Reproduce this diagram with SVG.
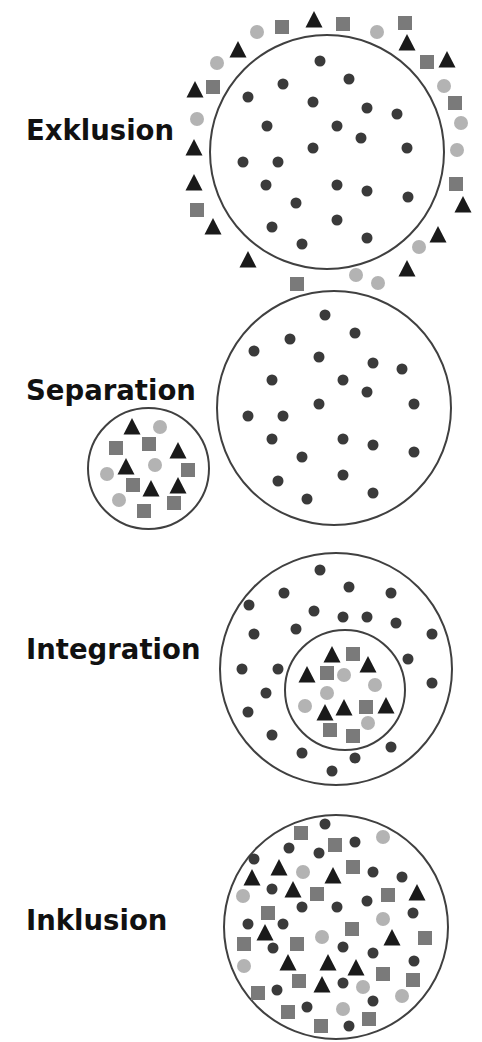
<svg xmlns="http://www.w3.org/2000/svg" xmlns:xlink="http://www.w3.org/1999/xlink" width="482" height="1042" viewBox="0 0 482 1042">
<style>
.ring{fill:none;stroke:#404040;stroke-width:2}
.lbl{font-family:"DejaVu Sans","Verdana",sans-serif;font-weight:bold;font-size:27.5px;fill:#111}
</style>
<defs>
<circle id="d" r="5.5" fill="#3a3a3a"/>
<circle id="c" r="7" fill="#b3b3b3"/>
<rect id="s" x="-7" y="-7" width="14" height="14" fill="#7a7a7a"/>
<path id="t" d="M0,-9 L8.5,7.5 L-8.5,7.5 Z" fill="#1a1a1a"/>
</defs>
<rect width="482" height="1042" fill="#fff"/>

<g id="exklusion">
<text class="lbl" x="26" y="140">Exklusion</text>
<circle class="ring" cx="327" cy="152" r="117"/>
<use href="#d" x="320" y="61"/><use href="#d" x="349" y="79"/><use href="#d" x="283" y="84"/>
<use href="#d" x="248" y="97"/><use href="#d" x="313" y="102"/><use href="#d" x="367" y="108"/>
<use href="#d" x="397" y="114"/><use href="#d" x="267" y="126"/><use href="#d" x="337" y="126"/>
<use href="#d" x="361" y="138"/><use href="#d" x="313" y="148"/><use href="#d" x="407" y="148"/>
<use href="#d" x="243" y="162"/><use href="#d" x="278" y="162"/><use href="#d" x="266" y="185"/>
<use href="#d" x="337" y="185"/><use href="#d" x="367" y="191"/><use href="#d" x="408" y="197"/>
<use href="#d" x="296" y="203"/><use href="#d" x="272" y="227"/><use href="#d" x="337" y="220"/>
<use href="#d" x="302" y="244"/><use href="#d" x="367" y="238"/>
<use href="#t" x="314" y="20"/><use href="#s" x="282" y="27"/><use href="#c" x="257" y="32"/>
<use href="#t" x="238" y="50"/><use href="#c" x="217" y="63"/><use href="#t" x="195" y="90"/>
<use href="#s" x="213" y="87"/><use href="#c" x="197" y="119"/><use href="#t" x="194" y="148"/>
<use href="#t" x="194" y="183"/><use href="#s" x="197" y="210"/><use href="#t" x="213" y="227"/>
<use href="#t" x="248" y="260"/><use href="#s" x="297" y="284"/>
<use href="#s" x="343" y="24"/><use href="#c" x="377" y="32"/><use href="#s" x="405" y="23"/>
<use href="#t" x="407" y="43"/><use href="#s" x="427" y="62"/><use href="#t" x="447" y="60"/>
<use href="#c" x="444" y="86"/><use href="#s" x="455" y="103"/><use href="#c" x="461" y="123"/>
<use href="#c" x="457" y="150"/><use href="#s" x="456" y="184"/><use href="#t" x="463" y="205"/>
<use href="#t" x="438" y="235"/><use href="#c" x="419" y="247"/><use href="#t" x="407" y="269"/>
<use href="#c" x="356" y="275"/><use href="#c" x="378" y="283"/>
</g>

<g id="separation">
<text class="lbl" x="26" y="400">Separation</text>
<circle class="ring" cx="334" cy="408" r="117"/>
<use href="#d" x="325" y="315"/><use href="#d" x="355" y="333"/><use href="#d" x="254" y="351"/>
<use href="#d" x="290" y="339"/><use href="#d" x="319" y="357"/><use href="#d" x="373" y="363"/>
<use href="#d" x="402" y="369"/><use href="#d" x="272" y="380"/><use href="#d" x="343" y="380"/>
<use href="#d" x="367" y="392"/><use href="#d" x="319" y="404"/><use href="#d" x="414" y="404"/>
<use href="#d" x="248" y="416"/><use href="#d" x="283" y="416"/><use href="#d" x="272" y="439"/>
<use href="#d" x="343" y="439"/><use href="#d" x="373" y="445"/><use href="#d" x="414" y="452"/>
<use href="#d" x="302" y="457"/><use href="#d" x="278" y="481"/><use href="#d" x="343" y="475"/>
<use href="#d" x="373" y="493"/><use href="#d" x="307" y="499"/>
<circle class="ring" cx="148.5" cy="468.5" r="60.5"/>
<use href="#t" x="132" y="427"/><use href="#c" x="160" y="427"/><use href="#s" x="116" y="448"/>
<use href="#s" x="149" y="444"/><use href="#t" x="178" y="451"/><use href="#t" x="126" y="467"/>
<use href="#c" x="155" y="465"/><use href="#c" x="107" y="474"/><use href="#s" x="188" y="470"/>
<use href="#s" x="133" y="485"/><use href="#t" x="151" y="489"/><use href="#t" x="178" y="486"/>
<use href="#c" x="119" y="500"/><use href="#s" x="174" y="503"/><use href="#s" x="144" y="511"/>
</g>

<g id="integration">
<text class="lbl" x="26" y="659">Integration</text>
<circle class="ring" cx="336" cy="669" r="116"/>
<circle class="ring" cx="345" cy="690" r="60"/>
<use href="#d" x="320" y="570"/><use href="#d" x="284" y="593"/><use href="#d" x="349" y="587"/>
<use href="#d" x="391" y="593"/><use href="#d" x="249" y="605"/><use href="#d" x="314" y="611"/>
<use href="#d" x="343" y="617"/><use href="#d" x="367" y="617"/><use href="#d" x="396" y="623"/>
<use href="#d" x="254" y="634"/><use href="#d" x="296" y="629"/><use href="#d" x="432" y="634"/>
<use href="#d" x="408" y="659"/><use href="#d" x="242" y="669"/><use href="#d" x="278" y="669"/>
<use href="#d" x="432" y="683"/><use href="#d" x="266" y="693"/><use href="#d" x="248" y="712"/>
<use href="#d" x="272" y="735"/><use href="#d" x="391" y="747"/><use href="#d" x="302" y="753"/>
<use href="#d" x="355" y="758"/><use href="#d" x="332" y="771"/>
<use href="#t" x="332" y="655"/><use href="#s" x="353" y="654"/><use href="#t" x="368" y="665"/>
<use href="#t" x="307" y="675"/><use href="#s" x="327" y="673"/><use href="#c" x="344" y="675"/>
<use href="#c" x="375" y="685"/><use href="#c" x="327" y="693"/><use href="#c" x="305" y="706"/>
<use href="#t" x="325" y="713"/><use href="#t" x="344" y="708"/><use href="#s" x="366" y="707"/>
<use href="#t" x="386" y="706"/><use href="#c" x="368" y="723"/><use href="#s" x="330" y="730"/>
<use href="#s" x="353" y="736"/>
</g>

<g id="inklusion">
<text class="lbl" x="26" y="930">Inklusion</text>
<circle class="ring" cx="336" cy="927" r="112"/>
<use href="#d" x="325" y="824"/><use href="#s" x="301" y="833"/><use href="#c" x="383" y="837"/>
<use href="#d" x="289" y="848"/><use href="#s" x="335" y="845"/><use href="#d" x="355" y="842"/>
<use href="#d" x="319" y="853"/><use href="#d" x="254" y="859"/><use href="#t" x="279" y="868"/>
<use href="#c" x="303" y="872"/><use href="#s" x="353" y="867"/><use href="#d" x="373" y="872"/>
<use href="#t" x="252" y="878"/><use href="#t" x="333" y="876"/><use href="#d" x="402" y="877"/>
<use href="#d" x="272" y="889"/><use href="#t" x="293" y="890"/><use href="#c" x="243" y="896"/>
<use href="#s" x="317" y="894"/><use href="#s" x="388" y="895"/><use href="#t" x="417" y="893"/>
<use href="#d" x="367" y="901"/><use href="#d" x="302" y="907"/><use href="#d" x="337" y="907"/>
<use href="#s" x="268" y="913"/><use href="#d" x="413" y="913"/><use href="#c" x="383" y="919"/>
<use href="#d" x="248" y="924"/><use href="#d" x="283" y="924"/>
<use href="#t" x="265" y="933"/><use href="#s" x="352" y="929"/><use href="#c" x="322" y="937"/>
<use href="#t" x="392" y="938"/><use href="#s" x="425" y="938"/><use href="#s" x="244" y="944"/>
<use href="#d" x="273" y="948"/><use href="#s" x="297" y="944"/><use href="#d" x="343" y="947"/>
<use href="#d" x="373" y="953"/><use href="#c" x="244" y="966"/><use href="#t" x="288" y="963"/>
<use href="#t" x="328" y="963"/><use href="#t" x="356" y="968"/><use href="#d" x="414" y="961"/>
<use href="#s" x="383" y="974"/><use href="#s" x="413" y="980"/><use href="#s" x="299" y="981"/>
<use href="#t" x="322" y="985"/><use href="#d" x="343" y="983"/><use href="#c" x="363" y="987"/>
<use href="#s" x="258" y="993"/><use href="#d" x="277" y="990"/><use href="#c" x="402" y="996"/>
<use href="#d" x="373" y="1001"/><use href="#s" x="288" y="1012"/><use href="#d" x="307" y="1007"/>
<use href="#c" x="343" y="1009"/><use href="#s" x="369" y="1019"/><use href="#s" x="321" y="1026"/>
<use href="#d" x="349" y="1026"/>
</g>
</svg>
